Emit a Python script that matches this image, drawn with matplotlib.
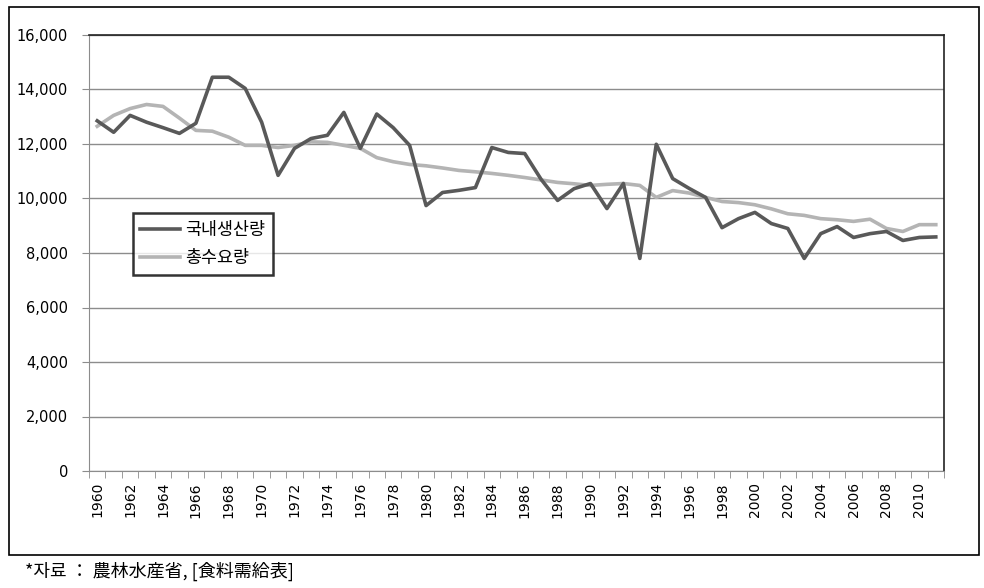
import numpy as np
import matplotlib.pyplot as plt
from matplotlib.patches import Rectangle
from matplotlib.ticker import FuncFormatter

plt.rcParams['font.family'] = ['DejaVu Sans', 'Noto Sans CJK KR']

years = list(range(1960, 2012))

domestic = [12850, 12430, 13050, 12800, 12600, 12390, 12760, 14450, 14450, 14040,
            12800, 10850, 11840, 12200, 12320, 13160, 11840, 13100, 12600, 11950,
            9740, 10220, 10300, 10400, 11870, 11690, 11650, 10700, 9930, 10360,
            10550, 9630, 10550, 7800, 11990, 10730, 10370, 10040, 8930, 9260,
            9490, 9080, 8900, 7800, 8710, 8970, 8570, 8710, 8790, 8460,
            8570, 8590]

demand = [12650, 13050, 13300, 13450, 13380, 12950, 12500, 12470, 12250, 11950,
          11950, 11870, 11950, 12080, 12060, 11950, 11840, 11500, 11350, 11250,
          11200, 11120, 11030, 10980, 10920, 10850, 10770, 10680, 10590, 10540,
          10480, 10520, 10550, 10480, 10040, 10290, 10200, 10040, 9890, 9850,
          9770, 9620, 9440, 9380, 9260, 9220, 9160, 9240, 8900, 8790,
          9040, 9040]

series_names = ['국내생산량', '총수요량']
source_note = '*자료 ： 農林水産省, [食料需給表]'

fig = plt.figure(figsize=(9.84, 5.88), dpi=100)
fig.patch.set_facecolor('white')

# outer chart border
fig.add_artist(Rectangle((9 / 984, 1 - 555 / 588), (979 - 9) / 984, (555 - 7) / 588,
                         transform=fig.transFigure, fill=False, edgecolor='black', lw=1.2))

ax = fig.add_axes([89 / 984, 1 - 471 / 588, (944 - 89) / 984, (471 - 35) / 588])

x = np.arange(len(years))
ax.plot(x, domestic, color='#595959', lw=2.6, label=series_names[0], zorder=3)
ax.plot(x, demand, color='#b4b4b4', lw=2.6, label=series_names[1], zorder=2)

ax.set_xlim(-0.5, len(years) - 0.5)
ax.set_ylim(0, 16000)
ax.set_yticks(np.arange(0, 16001, 2000))
ax.yaxis.set_major_formatter(FuncFormatter(lambda v, p: '{:,.0f}'.format(v)))
ax.grid(axis='y', color='#8c8c8c', lw=1)
ax.set_axisbelow(True)

ax.set_xticks(x[::2])
ax.set_xticklabels([str(y) for y in years[::2]], rotation=90, fontsize=10)
ax.set_xticks(np.arange(-0.5, len(years), 1), minor=True)
ax.tick_params(axis='x', which='major', length=0, pad=8)
ax.tick_params(axis='x', which='minor', length=5, color='#8c8c8c')
ax.tick_params(axis='y', length=5, color='#8c8c8c', labelsize=10.5, pad=10)

for side in ['top', 'right']:
    ax.spines[side].set_color('#222222')
    ax.spines[side].set_linewidth(1.2)
for side in ['left', 'bottom']:
    ax.spines[side].set_color('#8c8c8c')

leg = ax.legend(loc='lower left', bbox_to_anchor=(0.051, 0.449),
                frameon=True, fancybox=False, handlelength=2.3, borderpad=0.45,
                labelspacing=0.6, handletextpad=0.3, borderaxespad=0,
                prop={'family': ['Noto Sans CJK KR'], 'size': 12.5})
leg.get_frame().set_edgecolor('black')
leg.get_frame().set_linewidth(1.8)

fig.text(25 / 984, 1 - 571 / 588, source_note, fontsize=13, va='center', ha='left',
         family=['Noto Sans CJK KR', 'DejaVu Sans'])

fig.savefig('out.png', dpi=100)
